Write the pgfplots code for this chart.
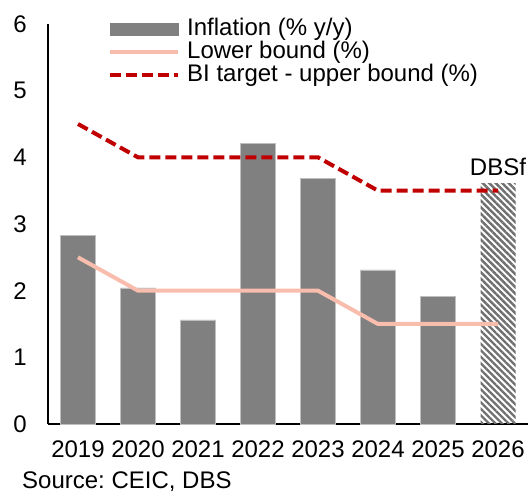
\documentclass[border=0pt]{standalone}
\usepackage{pgfplots}
\pgfplotsset{compat=1.18}
\usepackage{fontspec}
\setmainfont{Liberation Sans}
\frenchspacing
\usetikzlibrary{patterns.meta}
\definecolor{barg}{HTML}{808080}
\definecolor{hatchg}{HTML}{707070}
\definecolor{lowc}{HTML}{F9BDAE}
\definecolor{upc}{HTML}{C00000}
\pgfplotsset{
  lineleg/.style={legend image code/.code={\draw[##1] (0pt,0pt) -- (68pt,0pt);}},
  barleg/.style={legend image code/.code={\fill[barg] (0pt,-6pt) rectangle (68pt,6pt);}}
}
\begin{document}
\begin{tikzpicture}
\begin{axis}[name=ax, scale only axis, width=480pt, height=400pt,
  xmin=-0.5, xmax=7.5, ymin=0, ymax=6,
  xtick={0,1,2,3,4,5,6,7},
  xticklabels={2019,2020,2021,2022,2023,2024,2025,2026},
  ytick={0,1,2,3,4,5,6},
  axis x line=bottom, axis y line=left,
  axis line style={-, line width=1.2pt, black},
  major tick length=0pt,
  font=\fontsize{24}{26}\selectfont,
  /pgf/number format/assume math mode=true,
  xticklabel style={anchor=base, yshift=-34pt, inner sep=0pt},
  yticklabel style={anchor=east, xshift=-21pt, inner sep=0pt},
  legend style={at={(0.125,1.016)}, anchor=north west, draw=none, fill=none,
    inner sep=0pt, row sep=0.5pt, column sep=7pt,
    nodes={inner sep=0pt, text height=17.5pt, text depth=5pt},
    font=\fontsize{24}{26}\selectfont},
  legend cell align=left,
  clip=false]
\addplot[ybar, bar width=35pt, bar shift=0pt, fill=barg, draw=white!75!black, line width=0.5pt, barleg]
  coordinates {(0,2.83) (1,2.04) (2,1.56) (3,4.21) (4,3.68) (5,2.31) (6,1.91)};
\addlegendentry{Inflation (\% y/y)}
\addplot[ybar, bar width=35pt, bar shift=0pt, draw=none,
  pattern={Lines[angle=-45,distance=4.6pt,line width=2.4pt]}, pattern color=hatchg, forget plot]
  coordinates {(7,3.61)};
\addplot[lowc, line width=4pt, lineleg]
  coordinates {(0,2.5) (1,2) (2,2) (3,2) (4,2) (5,1.5) (6,1.5) (7,1.5)};
\addlegendentry{Lower bound (\%)}
\addplot[upc, line width=4pt, dash pattern=on 11pt off 5pt, lineleg]
  coordinates {(0,4.5) (1,4) (2,4) (3,4) (4,4) (5,3.5) (6,3.5) (7,3.5)};
\addlegendentry{BI target - upper bound (\%)}
\node[anchor=base, inner sep=0pt] at ([yshift=8pt]axis cs:7,3.61) {DBSf};
\end{axis}
\node[anchor=base west, inner sep=0pt, font=\fontsize{24}{26}\selectfont]
  at ([xshift=-26pt,yshift=-65pt]ax.south west) {Source: CEIC, DBS};
\pgfresetboundingbox
\path[use as bounding box] ([xshift=-48pt,yshift=-70pt]ax.south west) rectangle ++(532pt,494pt);
\end{tikzpicture}
\end{document}
